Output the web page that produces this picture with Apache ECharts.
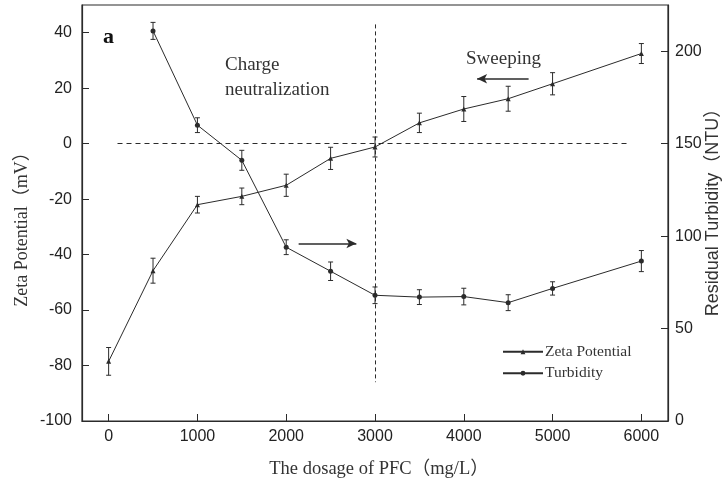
<!DOCTYPE html>
<html><head><meta charset="utf-8">
<script src="https://cdn.jsdelivr.net/npm/echarts@6/dist/echarts.min.js"></script>
<style>html,body{margin:0;padding:0;background:#fff}#c{width:724px;height:484px}</style>
</head><body><div id="c"></div>
<script>
// ---- data ----
const dosage = [0, 500, 1000, 1500, 2000, 2500, 3000, 3500, 4000, 4500, 5000, 6000];
const zeta = [-78.5, -45.8, -22, -19, -15, -5.3, -1.2, 7.5, 12.5, 16.2, 21.6, 32.5];
const zetaErr = [5, 4.5, 3, 3, 4, 4, 3.6, 3.5, 4.5, 4.5, 4, 3.6];
const turbDosage = [500, 1000, 1500, 2000, 2500, 3000, 3500, 4000, 4500, 5000, 6000];
const turb = [211, 160, 141, 94, 81, 68, 67, 67.3, 64, 71.7, 86.5];
const turbErr = [4.6, 4, 5.4, 4, 5, 4.5, 4, 4.5, 4.3, 3.6, 5.7];
const xTicks = [0, 1000, 2000, 3000, 4000, 5000, 6000];
const yLeftTicks = [-100, -80, -60, -40, -20, 0, 20, 40];
const yRightTicks = [0, 50, 100, 150, 200];
const zeroLine = [[100, 0], [5850, 0]];
const splitLine = [[3000, 43], [3000, -86]];
const arrowRight = [[2140, -36], [2790, -36]];
const arrowLeft = [[4730, 23.4], [4150, 23.4]];

const zetaData = dosage.map((d, i) => [d, zeta[i]]);
const turbData = turbDosage.map((d, i) => [d, turb[i]]);
const zetaErrData = dosage.map((d, i) => [d, zeta[i] - zetaErr[i], zeta[i] + zetaErr[i]]);
const turbErrData = turbDosage.map((d, i) => [d, turb[i] - turbErr[i], turb[i] + turbErr[i]]);

const C = '#2b2b2b';
const sans = '"Liberation Sans", Arial, "Noto Sans CJK SC"';
const serif = '"Liberation Serif", "Times New Roman", "Noto Sans CJK SC"';

function errRender(params, api) {
  const x = api.value(0);
  const lo = api.coord([x, api.value(1)]);
  const hi = api.coord([x, api.value(2)]);
  const w = 2.5;
  const st = { stroke: C, lineWidth: 1 };
  return { type: 'group', children: [
    { type: 'line', shape: { x1: lo[0], y1: lo[1], x2: hi[0], y2: hi[1] }, style: st },
    { type: 'line', shape: { x1: lo[0] - w, y1: lo[1], x2: lo[0] + w, y2: lo[1] }, style: st },
    { type: 'line', shape: { x1: hi[0] - w, y1: hi[1], x2: hi[0] + w, y2: hi[1] }, style: st }
  ]};
}

const chart = echarts.init(document.getElementById('c'), null, { renderer: 'canvas' });
chart.setOption({
  animation: false,
  backgroundColor: '#fff',
  grid: { left: 82, right: 56, top: 5, bottom: 63, show: true, borderColor: C, borderWidth: 1.2, backgroundColor: 'transparent' },
  xAxis: {
    type: 'value', min: -300, max: 6300,
    axisLine: { onZero: false, lineStyle: { color: C, width: 1.2 } },
    axisTick: { inside: true, length: 7, lineStyle: { color: C }, customValues: xTicks },
    axisLabel: { customValues: xTicks, formatter: v => String(v), color: '#222', fontFamily: sans, fontSize: 16, margin: 8 },
    splitLine: { show: false }
  },
  yAxis: [{
    type: 'value', min: -100, max: 50,
    axisLine: { show: true, onZero: false, lineStyle: { color: C, width: 1.2 } },
    axisTick: { show: true, inside: true, length: 7, lineStyle: { color: C }, customValues: yLeftTicks },
    axisLabel: { customValues: yLeftTicks, formatter: v => String(v), color: '#222', fontFamily: sans, fontSize: 16, margin: 10 },
    splitLine: { show: false }
  }, {
    type: 'value', min: 0, max: 225, position: 'right',
    axisLine: { show: true, onZero: false, lineStyle: { color: C, width: 1.2 } },
    axisTick: { show: true, inside: true, length: 7, lineStyle: { color: C }, customValues: yRightTicks },
    axisLabel: { customValues: yRightTicks, formatter: v => String(v), color: '#222', fontFamily: sans, fontSize: 16, margin: 7 },
    splitLine: { show: false }
  }],
  legend: {
    left: 497, top: 339, orient: 'vertical', itemGap: 6, itemWidth: 40, itemHeight: 6,
    data: ['Zeta Potential', 'Turbidity'],
    textStyle: { fontFamily: serif, fontSize: 15.5, color: '#333', padding: [0, 0, 0, -3] }
  },
  series: [
    {
      name: 'Zeta Potential', type: 'line', data: zetaData, yAxisIndex: 0,
      symbol: 'triangle', symbolSize: 5, showSymbol: true,
      lineStyle: { color: C, width: 1 }, itemStyle: { color: C },
      markLine: {
        silent: true, symbol: ['none', 'none'], label: { show: false },
        lineStyle: { color: C, width: 1, type: [5, 4] },
        data: [
          [{ coord: zeroLine[0] }, { coord: zeroLine[1] }],
          [{ coord: splitLine[0], lineStyle: { type: [4, 3] } }, { coord: splitLine[1] }]
        ]
      }
    },
    {
      name: 'Turbidity', type: 'line', data: turbData, yAxisIndex: 1,
      symbol: 'circle', symbolSize: 5, showSymbol: true,
      lineStyle: { color: C, width: 1 }, itemStyle: { color: C }
    },
    { type: 'custom', yAxisIndex: 0, data: zetaErrData, renderItem: errRender, z: 3, silent: true },
    { type: 'custom', yAxisIndex: 1, data: turbErrData, renderItem: errRender, z: 3, silent: true },
    {
      type: 'line', yAxisIndex: 0, data: [], silent: true,
      markLine: {
        silent: true, symbol: ['none', 'arrow'], symbolSize: [7, 10], label: { show: false },
        lineStyle: { color: C, width: 1.5, type: 'solid' },
        data: [
          [{ coord: arrowRight[0] }, { coord: arrowRight[1] }],
          [{ coord: arrowLeft[0] }, { coord: arrowLeft[1] }]
        ]
      }
    }
  ],
  graphic: [
    { type: 'text', left: 103, top: 26, style: { text: 'a', font: 'bold 22px ' + serif, fill: '#111' } },
    { type: 'text', left: 225, top: 53, style: { text: 'Charge\nneutralization', font: '19px ' + serif, fill: '#333', lineHeight: 25 } },
    { type: 'text', left: 466, top: 50, style: { text: 'Sweeping', font: '19px ' + serif, fill: '#333' } },
    { type: 'text', x: 22, y: 225, rotation: Math.PI / 2, style: { text: 'Zeta Potential（mV）', font: '18px ' + serif, fill: '#333', align: 'center', verticalAlign: 'middle' } },
    { type: 'text', x: 713, y: 208, rotation: Math.PI / 2, style: { text: 'Residual Turbidity（NTU）', font: '18px ' + sans, fill: '#333', align: 'center', verticalAlign: 'middle' } },
    { type: 'text', x: 379, y: 469, style: { text: 'The dosage of PFC（mg/L）', font: '18.5px ' + serif, fill: '#333', align: 'center', verticalAlign: 'middle' } }
  ]
});
</script></body></html>
